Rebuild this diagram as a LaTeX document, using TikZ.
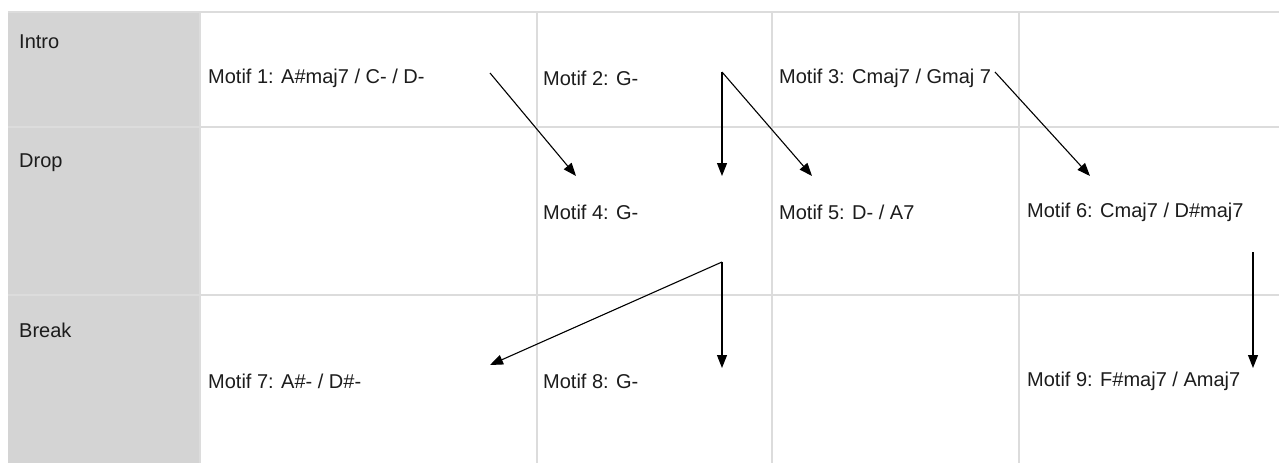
\documentclass[tikz,border=0pt]{standalone}
\usepackage{fontspec}
\setmainfont{Liberation Sans}
\usetikzlibrary{arrows.meta}
\definecolor{gridgray}{HTML}{DCDCDC}
\definecolor{headgray}{HTML}{D4D4D4}
\definecolor{inkgray}{HTML}{1C1C1C}
\begin{document}
\begin{tikzpicture}[x=1pt,y=-1pt,
  grid/.style={draw=gridgray, line width=1.6pt},
  motif/.style={anchor=west, inner sep=0pt, text=inkgray, font=\fontsize{20}{22}\selectfont},
  rowlabel/.style={anchor=west, inner sep=0pt, text=inkgray, font=\fontsize{20}{22}\selectfont},
  conn/.style={draw=black, line width=1.1pt, -{Triangle[length=13pt,width=10pt]}}]
\useasboundingbox (0,0) rectangle (1279,463);
\fill[white] (0,0) rectangle (1279,463);
% header column
\fill[headgray] (8,12) rectangle (200,463);
% grid
\draw[grid] (8,12) -- (1279,12);
\draw[grid] (8,127) -- (1279,127);
\draw[grid] (8,295) -- (1279,295);
\draw[grid] (200,12) -- (200,463);
\draw[grid] (537,12) -- (537,463);
\draw[grid] (772,12) -- (772,463);
\draw[grid] (1019,12) -- (1019,463);
% row labels
\node[rowlabel] (intro) at (19,42) {Intro};
\node[rowlabel] (drop) at (19,163) {Drop};
\node[rowlabel] (break) at (19,330) {Break};
% motifs
\node[motif] (m1) at (208,78) {Motif 1: A\#maj7 / C- / D-};
\node[motif] (m2) at (543,78) {Motif 2: G-};
\node[motif] (m3) at (779,78) {Motif 3: Cmaj7 / Gmaj 7};
\node[motif] (m4) at (543,212) {Motif 4: G-};
\node[motif] (m5) at (779,212) {Motif 5: D- / A7};
\node[motif] (m6) at (1027,212) {Motif 6: Cmaj7 / D\#maj7};
\node[motif] (m7) at (208,381) {Motif 7: A\#- / D\#-};
\node[motif] (m8) at (543,381) {Motif 8: G-};
\node[motif] (m9) at (1027,381) {Motif 9: F\#maj7 / Amaj7};
% connector ends
\coordinate (s1) at (490,73);
\coordinate (e1) at (576,176);
\coordinate (s2) at (722,72);
\coordinate (e2a) at (722,176);
\coordinate (e2b) at (812,176);
\coordinate (s3) at (995,72);
\coordinate (e3) at (1090,176);
\coordinate (s4) at (722,262);
\coordinate (e4a) at (722,368);
\coordinate (e4b) at (490,365);
\coordinate (s5) at (1253,252);
\coordinate (e5) at (1253,368);
% connectors
\draw[conn] (s1) -- (e1);
\draw[conn] (s2) -- (e2a);
\draw[conn] (s2) -- (e2b);
\draw[conn] (s3) -- (e3);
\draw[conn] (s4) -- (e4a);
\draw[conn] (s4) -- (e4b);
\draw[conn] (s5) -- (e5);
\end{tikzpicture}
\end{document}
